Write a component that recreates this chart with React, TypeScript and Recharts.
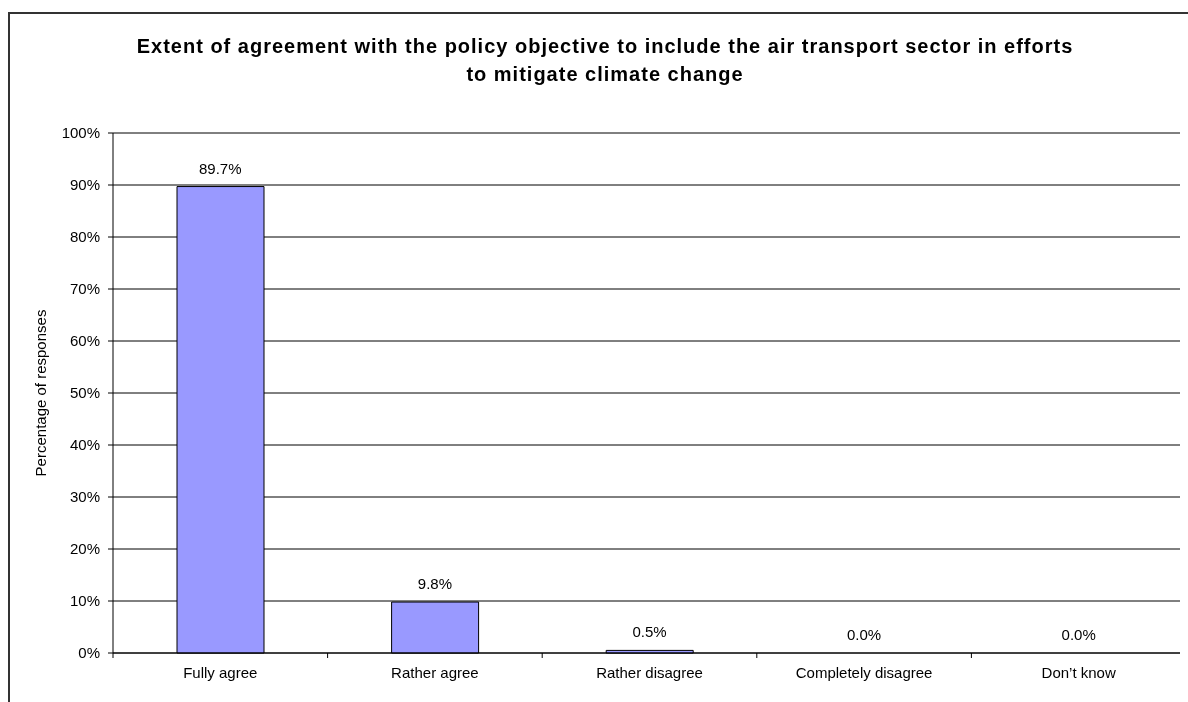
import React from "react";
import { ComposedChart, Bar, Line, XAxis, YAxis, CartesianGrid, LabelList } from "recharts";

const categories = ["Fully agree", "Rather agree", "Rather disagree", "Completely disagree", "Don\u2019t know"];
const shares = [89.7, 9.8, 0.5, 0.0, 0.0];
const yTicks = [0, 10, 20, 30, 40, 50, 60, 70, 80, 90, 100];

const titleLines = [
  "Extent of agreement with the policy objective to include the air transport sector in efforts",
  "to mitigate climate change",
];

const data = categories.map((name, i) => ({ name, share: shares[i] }));

const FONT = "Arial, 'Liberation Sans', sans-serif";

function CategoryTick(props: any) {
  const { x, y, payload, index, visibleTicksCount, width } = props;
  const half = payload?.offset || (width / visibleTicksCount) / 2;
  const last = index === visibleTicksCount - 1;
  return (
    <g>
      <line x1={x - half} x2={x - half} y1={y} y2={y + 5} stroke="#000" />
      {last && <line x1={x + half} x2={x + half} y1={y} y2={y + 5} stroke="#808080" />}
      <text x={x} y={y + 14} dy="0.71em" textAnchor="middle" fill="#000" fontSize={15} fontFamily={FONT}>
        {payload.value}
      </text>
    </g>
  );
}

function YTitle(props: any) {
  const vb = props.viewBox || {};
  const cx = vb.x + 12;
  const cy = vb.y + vb.height / 2;
  return (
    <text
      x={cx}
      y={cy}
      transform={`rotate(-90 ${cx} ${cy})`}
      textAnchor="middle"
      dominantBaseline="central"
      fontSize={15}
      fontFamily={FONT}
      fill="#000"
    >
      Percentage of responses
    </text>
  );
}

export default function App() {
  return (
    <div style={{ position: "relative", width: 1180, height: 686, fontFamily: FONT, background: "#fff" }}>
      <div
        style={{
          position: "fixed",
          left: 8,
          top: 12,
          right: -20,
          bottom: -20,
          borderLeft: "2px solid #333",
          borderTop: "2px solid #333",
          pointerEvents: "none",
        }}
      />
      <div
        style={{
          position: "absolute",
          left: 0,
          width: 1194,
          top: 24,
          textAlign: "center",
          fontWeight: "bold",
          fontSize: 20,
          lineHeight: "28px",
          color: "#000",
          letterSpacing: 1,
        }}
      >
        {titleLines.map(t => (
          <div key={t}>{t}</div>
        ))}
      </div>
      <ComposedChart
        width={1180}
        height={686}
        data={data}
        margin={{ top: 125, right: 2, left: 20, bottom: 11 }}
        barSize={87}
        style={{ position: "absolute", left: 0, top: 0 }}
      >
        <CartesianGrid vertical={false} stroke="#000" strokeOpacity={1} />
        <XAxis
          dataKey="name"
          height={30}
          tickLine={false}
          tickSize={0}
          tickMargin={0}
          axisLine={{ stroke: "#000" }}
          tick={<CategoryTick />}
          interval={0}
        />
        <XAxis xAxisId="top" orientation="top" dataKey="name" height={0} tick={false} tickLine={false} axisLine={{ stroke: "#808080" }} />
        <YAxis
          domain={[0, 100]}
          ticks={yTicks}
          interval={0}
          width={85}
          tickSize={5}
          tickMargin={8}
          tickLine={{ stroke: "#000" }}
          axisLine={{ stroke: "#000" }}
          tickFormatter={(v: number) => `${v}%`}
          tick={{ fill: "#000", fontSize: 15, fontFamily: FONT }}
          label={<YTitle />}
        />
        <YAxis yAxisId="right" orientation="right" width={0} tick={false} tickLine={false} axisLine={{ stroke: "#808080" }} />
        <Bar dataKey="share" fill="#9999FF" stroke="#000" strokeWidth={1} isAnimationActive={false} />
        <Line
          dataKey="share"
          stroke="none"
          dot={false}
          activeDot={false}
          legendType="none"
          isAnimationActive={false}
        >
          <LabelList
            dataKey="share"
            position="top"
            offset={13}
            fill="#000"
            fontSize={15}
            fontFamily={FONT}
            formatter={(v: any) => `${Number(v).toFixed(1)}%`}
          />
        </Line>
      </ComposedChart>
    </div>
  );
}
